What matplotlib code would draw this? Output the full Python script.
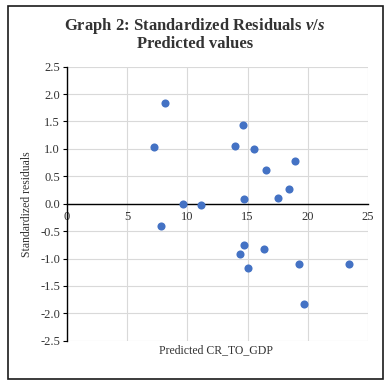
import matplotlib
matplotlib.use("Agg")
import matplotlib.pyplot as plt
from matplotlib.patches import Rectangle

predicted = [7.2, 8.1, 13.95, 14.6, 15.5, 18.9, 16.5, 18.4, 17.5, 14.7,
             9.6, 11.1, 7.8, 14.7, 16.4, 14.4, 15.0, 19.3, 23.4, 19.7]
residuals = [1.04, 1.83, 1.06, 1.43, 1.0, 0.78, 0.62, 0.27, 0.10, 0.09,
             0.0, -0.03, -0.41, -0.76, -0.83, -0.92, -1.17, -1.10, -1.10, -1.83]
xticks = [0, 5, 10, 15, 20, 25]
yticks = [-2.5, -2.0, -1.5, -1.0, -0.5, 0.0, 0.5, 1.0, 1.5, 2.0, 2.5]

W, H = 391, 388
plt.rcParams['font.family'] = ['Liberation Serif', 'DejaVu Serif']
plt.rcParams['mathtext.fontset'] = 'custom'
plt.rcParams['mathtext.it'] = 'Liberation Serif:italic:bold'
plt.rcParams['mathtext.rm'] = 'Liberation Serif:bold'
fig = plt.figure(figsize=(W / 100, H / 100), dpi=100)

# outer border
fig.patches.append(Rectangle((8 / W, 1 - 379 / H), 375 / W, 373 / H,
                             transform=fig.transFigure, fill=False,
                             edgecolor='#1a1a1a', linewidth=1.2))

ax = fig.add_axes([67 / W, 1 - 340.7 / H, 301 / W, 274 / H])
ax.scatter(predicted, residuals, s=34, color='#4472C4', zorder=3, linewidths=0)
ax.set_xlim(0, 25)
ax.set_ylim(-2.5, 2.5)
ax.set_xticks(xticks)
ax.set_yticks(yticks)
ax.set_yticklabels([f"{v:.1f}" for v in yticks])
ax.grid(True, color='#d9d9d9', linewidth=0.8)
ax.set_axisbelow(True)

ax.spines['bottom'].set_position(('data', 0))
ax.spines['bottom'].set_color('black')
ax.spines['bottom'].set_linewidth(1.0)
ax.spines['left'].set_color('black')
ax.spines['left'].set_linewidth(1.0)
ax.spines['top'].set_visible(False)
ax.spines['right'].set_visible(False)

ax.tick_params(axis='x', length=0, labelsize=9, pad=5, labelcolor='#333333')
ax.tick_params(axis='y', length=3, width=0.8, direction='out', labelsize=9, pad=2,
               colors='black', labelcolor='#333333')

cx = 195 / W
fig.text(cx, 1 - 30 / H, "Graph 2: Standardized Residuals $v/s$",
         ha='center', va='baseline', fontsize=12, fontweight='bold', color='#333333')
fig.text(cx, 1 - 48 / H, "Predicted values",
         ha='center', va='baseline', fontsize=12, fontweight='bold', color='#333333')

fig.text(216 / W, 1 - 350 / H, "Predicted CR_TO_GDP", ha='center', va='center',
         fontsize=8.5, color='#333333')
fig.text(27 / W, 1 - 204 / H, "Standardized residuals", ha='center', va='center',
         rotation=90, fontsize=8.5, color='#333333')

fig.savefig("out.png", dpi=100)
